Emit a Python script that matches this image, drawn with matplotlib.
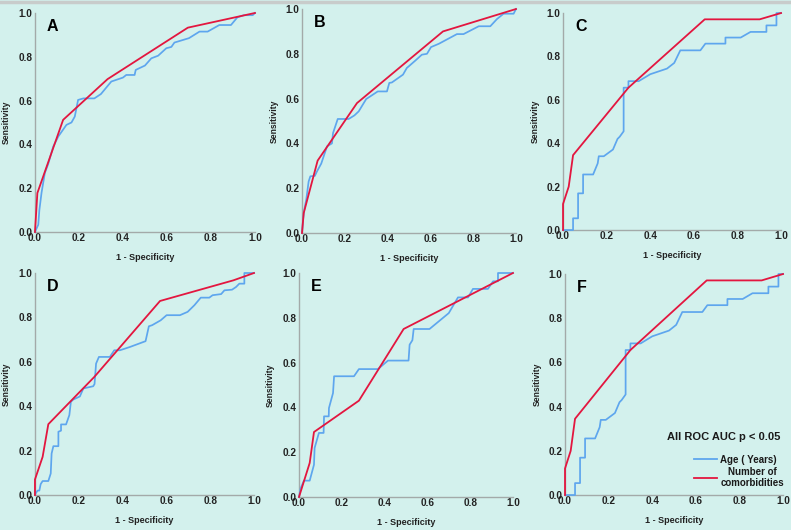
import matplotlib
matplotlib.use("Agg")
import matplotlib.pyplot as plt
from matplotlib.lines import Line2D

plt.rcParams["font.family"] = ["Liberation Sans", "DejaVu Sans"]

BG = "#d3f1ed"
BLUE = "#5ea6ee"
RED = "#e3163f"
SPINE = "#a3aaa9"

# --- ROC points (1 - specificity, sensitivity) ---
a_age_x = [0, 0.015, 0.02, 0.03, 0.045, 0.06, 0.083, 0.106, 0.143, 0.166, 0.181, 0.196, 0.22, 0.27,
           0.3, 0.347, 0.4, 0.415, 0.453, 0.458, 0.5, 0.529, 0.56, 0.597, 0.62, 0.634, 0.7, 0.748,
           0.785, 0.838, 0.891, 0.92, 0.95, 0.99, 1.0]
a_age_y = [0, 0.033, 0.1, 0.18, 0.27, 0.31, 0.39, 0.436, 0.489, 0.5, 0.527, 0.603, 0.61, 0.61,
           0.63, 0.687, 0.705, 0.717, 0.717, 0.74, 0.76, 0.793, 0.805, 0.839, 0.845, 0.865, 0.885, 0.915,
           0.915, 0.945, 0.945, 0.98, 0.99, 0.99, 1.0]
a_com_x = [0, 0.011, 0.128, 0.33, 0.695, 1.0]
a_com_y = [0, 0.178, 0.512, 0.698, 0.933, 1.0]

b_age_x = [0, 0.005, 0.01, 0.02, 0.031, 0.039, 0.06, 0.07, 0.09, 0.117, 0.14, 0.145, 0.167, 0.218,
           0.245, 0.265, 0.3, 0.354, 0.397, 0.408, 0.42, 0.472, 0.49, 0.5, 0.53, 0.56, 0.584, 0.603,
           0.64, 0.724, 0.755, 0.826, 0.88, 0.911, 0.942, 0.989, 1.0]
b_age_y = [0, 0.06, 0.1, 0.15, 0.23, 0.253, 0.255, 0.275, 0.31, 0.387, 0.4, 0.446, 0.509, 0.509,
           0.525, 0.543, 0.598, 0.632, 0.632, 0.67, 0.672, 0.707, 0.737, 0.745, 0.77, 0.796, 0.8, 0.83,
           0.845, 0.888, 0.888, 0.923, 0.923, 0.955, 0.979, 0.979, 1.0]
b_com_x = [0, 0.008, 0.073, 0.257, 0.659, 1.0]
b_com_y = [0, 0.089, 0.323, 0.58, 0.9, 1.0]

# panels C and F show the same curves
c_age_x = [0, 0.046, 0.046, 0.069, 0.069, 0.092, 0.092, 0.138, 0.159, 0.164, 0.187, 0.229, 0.25,
           0.26, 0.278, 0.278, 0.3, 0.3, 0.347, 0.4, 0.477, 0.51, 0.538, 0.63, 0.653, 0.745, 0.745,
           0.815, 0.86, 0.933, 0.933, 0.979, 0.979, 1.0]
c_age_y = [0, 0, 0.054, 0.054, 0.169, 0.169, 0.256, 0.256, 0.307, 0.34, 0.34, 0.371, 0.42,
           0.43, 0.455, 0.656, 0.656, 0.686, 0.686, 0.718, 0.744, 0.77, 0.828, 0.828, 0.859, 0.859, 0.887,
           0.887, 0.913, 0.913, 0.943, 0.943, 1.0, 1.0]
c_com_x = [0, 0, 0.026, 0.046, 0.3, 0.65, 0.902, 1.0]
c_com_y = [0, 0.12, 0.2, 0.345, 0.656, 0.971, 0.971, 1.0]

d_age_x = [0, 0.005, 0.012, 0.02, 0.026, 0.035, 0.061, 0.072, 0.076, 0.084, 0.107, 0.107, 0.119,
           0.119, 0.142, 0.157, 0.164, 0.175, 0.205, 0.221, 0.266, 0.272, 0.279, 0.292, 0.342, 0.362,
           0.388, 0.434, 0.505, 0.52, 0.535, 0.574, 0.601, 0.662, 0.697, 0.728, 0.757, 0.796, 0.811,
           0.85, 0.865, 0.9, 0.918, 0.933, 0.956, 0.956, 1.0]
d_age_y = [0, 0.01, 0.02, 0.02, 0.049, 0.063, 0.063, 0.097, 0.187, 0.22, 0.22, 0.285, 0.29,
           0.318, 0.318, 0.36, 0.42, 0.43, 0.444, 0.48, 0.49, 0.5, 0.592, 0.622, 0.622, 0.652,
           0.652, 0.667, 0.693, 0.76, 0.765, 0.787, 0.81, 0.81, 0.825, 0.855, 0.889, 0.889, 0.9,
           0.905, 0.922, 0.925, 0.937, 0.952, 0.952, 1.0, 1.0]
d_com_x = [0, 0, 0.035, 0.061, 0.271, 0.571, 0.906, 1.0]
d_com_y = [0, 0.07, 0.172, 0.319, 0.532, 0.874, 0.967, 1.0]

e_age_x = [0, 0.008, 0.023, 0.05, 0.07, 0.073, 0.093, 0.115, 0.117, 0.139, 0.14, 0.159, 0.164,
           0.257, 0.28, 0.369, 0.416, 0.512, 0.517, 0.53, 0.536, 0.61, 0.7, 0.743, 0.79, 0.813,
           0.883, 0.907, 0.93, 0.93, 1.0]
e_age_y = [0, 0.04, 0.073, 0.073, 0.144, 0.219, 0.286, 0.286, 0.36, 0.36, 0.397, 0.464, 0.539,
           0.539, 0.571, 0.571, 0.609, 0.609, 0.68, 0.7, 0.75, 0.75, 0.821, 0.891, 0.891, 0.929,
           0.929, 0.963, 0.963, 1.0, 1.0]
e_com_x = [0, 0.05, 0.07, 0.28, 0.489, 1.0]
e_com_y = [0, 0.152, 0.29, 0.43, 0.75, 1.0]

panel_letters = ["A", "B", "C", "D", "E", "F"]
tick_values = [0.0, 0.2, 0.4, 0.6, 0.8, 1.0]
tick_labels = ["0.0", "0.2", "0.4", "0.6", "0.8", "1.0"]

# axes rectangles in figure fractions (left, bottom, width, height)
AX_RECTS = [
    [0.0442, 0.5623, 0.2781, 0.4132],
    [0.3818, 0.5604, 0.2705, 0.4226],
    [0.7118, 0.5660, 0.2756, 0.4094],
    [0.0442, 0.0660, 0.2769, 0.4189],
    [0.3780, 0.0623, 0.2705, 0.4226],
    [0.7143, 0.0660, 0.2756, 0.4170],
]


def style_axes(ax, letter):
    ax.set_facecolor(BG)
    ax.set_xlim(0, 1)
    ax.set_ylim(0, 1)
    for side in ("top", "right"):
        ax.spines[side].set_visible(False)
    for side in ("left", "bottom"):
        ax.spines[side].set_color(SPINE)
        ax.spines[side].set_linewidth(1.0)
    ax.set_xticks(tick_values)
    ax.set_yticks(tick_values)
    ax.set_xticklabels(tick_labels, fontsize=7.2, fontweight="bold", color="#222222")
    ax.set_yticklabels(tick_labels, fontsize=7.2, fontweight="bold", color="#222222")
    ax.tick_params(axis="x", length=0, pad=1.0)
    ax.tick_params(axis="y", length=0, pad=2.0)
    ax.set_xlabel("1 - Specificity", fontsize=6.5, fontweight="bold", color="#222222", labelpad=7)
    ax.set_ylabel("Sensitivity", fontsize=6.2, fontweight="bold", color="#222222", labelpad=5)
    ax.text(0.055, 0.94, letter, transform=ax.transAxes, fontsize=11.5, fontweight="bold",
            color="black", va="center", ha="left")


def main():
    fig = plt.figure(figsize=(7.91, 5.30), dpi=100)
    fig.patch.set_facecolor(BG)

    curves = [
        (a_age_x, a_age_y, a_com_x, a_com_y),
        (b_age_x, b_age_y, b_com_x, b_com_y),
        (c_age_x, c_age_y, c_com_x, c_com_y),
        (d_age_x, d_age_y, d_com_x, d_com_y),
        (e_age_x, e_age_y, e_com_x, e_com_y),
        (c_age_x, c_age_y, c_com_x, c_com_y),
    ]

    axes = []
    for rect, letter, (ax_x, ax_y, cx, cy) in zip(AX_RECTS, panel_letters, curves):
        ax = fig.add_axes(rect)
        style_axes(ax, letter)
        ax.plot(ax_x, ax_y, color=BLUE, lw=1.25, clip_on=False, zorder=3)
        ax.plot(cx, cy, color=RED, lw=1.3, clip_on=False, zorder=4)
        axes.append(ax)

    ax_f = axes[5]
    ax_f.text(0.47, 0.262, "All ROC AUC p < 0.05", transform=ax_f.transAxes, fontsize=8,
              fontweight="bold", color="#1a1a1a", va="center", ha="left")
    handles = [Line2D([], [], color=BLUE, lw=1.3), Line2D([], [], color=RED, lw=1.3)]
    leg = ax_f.legend(handles, ["Age ( Years)", "Number of\ncomorbidities"],
                      loc="upper left", bbox_to_anchor=(0.57, 0.205), frameon=False,
                      prop={"size": 7, "weight": "bold"}, handlelength=2.4,
                      handletextpad=0.3, labelspacing=0.2, borderpad=0)
    for t in leg.get_texts():
        t.set_multialignment("center")
        t.set_color("#1a1a1a")

    # faint grey band along the top edge
    fig.add_artist(Line2D([0, 1], [0.997, 0.997], transform=fig.transFigure,
                          color="#c8cccb", lw=2.5))

    fig.savefig("out.png", dpi=100, facecolor=fig.get_facecolor())
    plt.close(fig)


if __name__ == "__main__":
    main()
